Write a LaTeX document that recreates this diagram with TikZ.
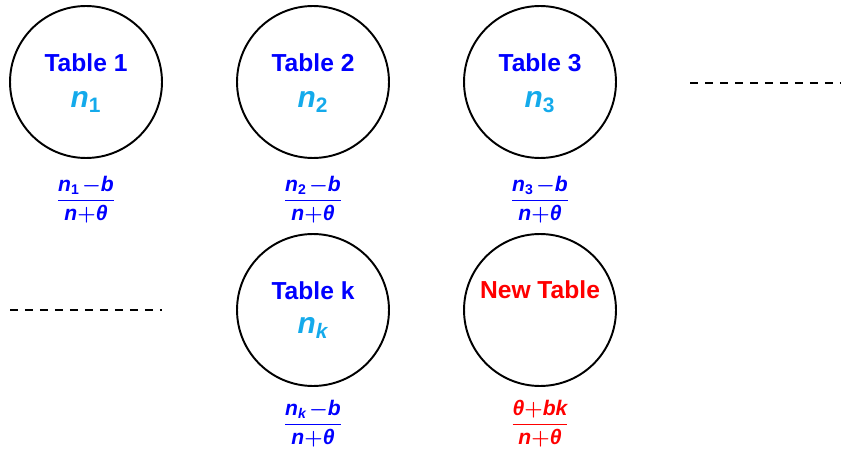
\documentclass[tikz,border=0pt]{standalone}
\usepackage{amsmath}
\usepackage{fontspec}
\setmainfont{Liberation Sans}
\usetikzlibrary{positioning}
\definecolor{tblblue}{RGB}{0,0,255}
\definecolor{tblcyan}{RGB}{20,170,235}
\definecolor{tblred}{RGB}{255,0,0}
\newcommand{\bi}[1]{\text{\bfseries\itshape #1}}
\newcommand{\bu}[1]{\text{\bfseries #1}}
\newcommand{\bminus}{\mkern2mu{\boldsymbol{-}}}
\newcommand{\bplus}{{\boldsymbol{+}}}
\newcommand{\pfrac}[2]{\genfrac{}{}{0.8pt}{0}{#1}{#2}}
\tikzset{
  tblnode/.style={circle,draw=black,line width=1.1pt,minimum size=3.04cm,inner sep=0pt},
  namelbl/.style={font=\fontsize{14}{16}\selectfont\bfseries,text=tblblue},
  sizelbl/.style={font=\fontsize{17}{19}\selectfont,text=tblcyan},
  problbl/.style={font=\fontsize{12}{14}\selectfont,text=tblblue},
  dotsline/.style={line width=1.1pt,dash pattern=on 0.16cm off 0.14cm},
}

\begin{document}
\begin{tikzpicture}[x=0.02cm,y=-0.02cm]
  \useasboundingbox (0,0) rectangle (841,449);
  % tables
  \node[tblnode] (t1) at (86,82) {};
  \node[tblnode] (t2) at (313,82) {};
  \node[tblnode] (t3) at (540,82) {};
  \node[tblnode] (tk) at (313,310) {};
  \node[tblnode] (tnew) at (540,310) {};
  % labels inside
  \node[namelbl] (l1) at (86,63) {Table 1};
  \node[sizelbl] (s1) at (86,102) {\(\bi{n}_{\bu{1}}\)};
  \node[namelbl] (l2) at (313,63) {Table 2};
  \node[sizelbl] (s2) at (313,102) {\(\bi{n}_{\bu{2}}\)};
  \node[namelbl] (l3) at (540,63) {Table 3};
  \node[sizelbl] (s3) at (540,102) {\(\bi{n}_{\bu{3}}\)};
  \node[namelbl] (lk) at (313,291) {Table k};
  \node[sizelbl] (sk) at (313,328) {\(\bi{n}_{\bi{k}}\)};
  \node[namelbl,text=tblred] (lnew) at (540,290) {New Table};
  % probabilities
  \node[problbl] (p1) at (86,200) {\(\pfrac{\bi{n}_{\bu{1}}\bminus\bi{b}}{\bi{n}\bplus\bi{θ}}\)};
  \node[problbl] (p2) at (313,200) {\(\pfrac{\bi{n}_{\bu{2}}\bminus\bi{b}}{\bi{n}\bplus\bi{θ}}\)};
  \node[problbl] (p3) at (540,200) {\(\pfrac{\bi{n}_{\bu{3}}\bminus\bi{b}}{\bi{n}\bplus\bi{θ}}\)};
  \node[problbl] (pk) at (313,424) {\(\pfrac{\bi{n}_{\bi{k}}\bminus\bi{b}}{\bi{n}\bplus\bi{θ}}\)};
  \node[problbl,text=tblred] (pnew) at (540,424) {\(\pfrac{\bi{θ}\bplus\bi{bk}}{\bi{n}\bplus\bi{θ}}\)};
  % dots
  \coordinate (da) at (690,83);
  \coordinate (db) at (841,83);
  \coordinate (dc) at (10,310);
  \coordinate (dd) at (162,310);
  \draw[dotsline] (da) -- (db);
  \draw[dotsline] (dc) -- (dd);
\end{tikzpicture}
\end{document}
